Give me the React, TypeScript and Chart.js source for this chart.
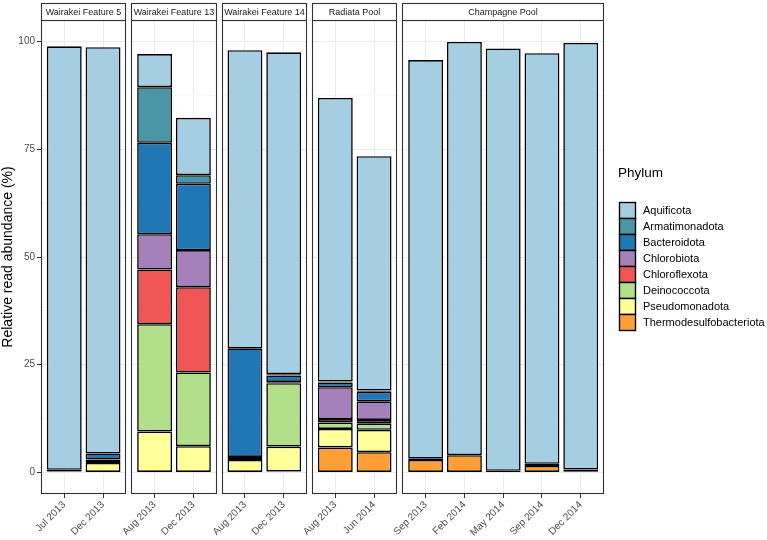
import React, { useEffect, useRef } from "react";
import { Chart, registerables } from "chart.js";

Chart.register(...registerables);

const FONT = "'Liberation Sans', Arial, Helvetica, sans-serif";

// Facets and their samples (x categories)
const FACETS = ["Wairakei Feature 5", "Wairakei Feature 13", "Wairakei Feature 14", "Radiata Pool", "Champagne Pool"];
const FACET_SAMPLES = [
  ["Jul 2013", "Dec 2013"],
  ["Aug 2013", "Dec 2013"],
  ["Aug 2013", "Dec 2013"],
  ["Aug 2013", "Jun 2014"],
  ["Sep 2013", "Feb 2014", "May 2014", "Sep 2014", "Dec 2014"],
];

// Legend order (top to bottom)
const PHYLA = [
  "Aquificota",
  "Armatimonadota",
  "Bacteroidota",
  "Chlorobiota",
  "Chloroflexota",
  "Deinococcota",
  "Pseudomonadota",
  "Thermodesulfobacteriota",
];
const PHYLA_COLORS = ["#A6CEE3", "#4A96A6", "#1F78B4", "#A680BB", "#EF5555", "#B2DF8A", "#FFFF99", "#FF9F35"];

// Values per sample, in facet/sample order (13 bars)
const Aquificota = [98.3, 94.3, 7.7, 13.3, 69.2, 74.7, 65.8, 54.4, 92.5, 95.9, 98.0, 95.3, 99.0];
const Armatimonadota = [0, 0, 12.9, 2.0, 0, 0.3, 0.2, 0.3, 0, 0, 0, 0, 0];
const Bacteroidota = [0.4, 1.4, 21.2, 15.4, 25.2, 1.5, 1.1, 2.2, 0, 0, 0, 0, 0];
const Chlorobiota = [0, 0, 8.2, 8.6, 0, 0.2, 7.4, 4.3, 0, 0, 0, 0, 0];
const Chloroflexota = [0, 0, 12.7, 19.8, 0, 0.1, 0.8, 0.8, 0, 0, 0, 0, 0];
const Deinococcota = [0, 0.8, 24.9, 17.1, 0.7, 14.7, 1.5, 1.5, 0, 0, 0, 0, 0];
const Pseudomonadota = [0.2, 2.2, 9.5, 6.1, 2.9, 5.8, 4.3, 5.2, 0.3, 0, 0.4, 0.5, 0.4];
const Thermodesulfobacteriota = [0, 0, 0, 0, 0, 0.2, 5.8, 4.7, 2.9, 4.0, 0, 1.5, 0.3];

const SERIES: Record<string, number[]> = {
  Aquificota,
  Armatimonadota,
  Bacteroidota,
  Chlorobiota,
  Chloroflexota,
  Deinococcota,
  Pseudomonadota,
  Thermodesulfobacteriota,
};

const Y_TICKS = [0, 25, 50, 75, 100];
const Y_TITLE = "Relative read abundance (%)";
const LEGEND_TITLE = "Phylum";

// Facet layout in x units (discrete positions with ggplot-like expansion)
const EXPAND = 0.6;
const GAP = 0.13;
const PANELS: { min: number; max: number }[] = [];
const BAR_X: number[] = [];
const BAR_LABELS: string[] = [];
{
  let start = 0;
  FACET_SAMPLES.forEach((samples) => {
    const max = start + samples.length - 1 + 2 * EXPAND;
    PANELS.push({ min: start, max });
    samples.forEach((s, i) => {
      BAR_X.push(start + EXPAND + i);
      BAR_LABELS.push(s);
    });
    start = max + GAP;
  });
}
const X_MAX = PANELS[PANELS.length - 1].max;

const Y_GRID: number[] = [];
Y_TICKS.forEach((v, i) => {
  Y_GRID.push(v);
  if (i < Y_TICKS.length - 1) Y_GRID.push((v + Y_TICKS[i + 1]) / 2);
});

const facetPlugin = {
  id: "facets",
  beforeDatasetsDraw(chart: any) {
    const { ctx, chartArea } = chart;
    const xs = chart.scales.x;
    ctx.save();
    ctx.fillStyle = "#FFFFFF";
    for (let i = 0; i < PANELS.length - 1; i++) {
      const a = xs.getPixelForValue(PANELS[i].max);
      const b = xs.getPixelForValue(PANELS[i + 1].min);
      ctx.fillRect(a, chartArea.top - 1, b - a, chartArea.bottom - chartArea.top + 2);
    }
    ctx.restore();
  },
  afterDatasetsDraw(chart: any) {
    const { ctx, chartArea } = chart;
    const xs = chart.scales.x;
    ctx.save();
    const stripTop = 3;
    PANELS.forEach((p, i) => {
      const l = Math.round(xs.getPixelForValue(p.min)) + 0.5;
      const r = Math.round(xs.getPixelForValue(p.max)) - 0.5;
      const t = Math.round(chartArea.top) + 0.5;
      const b = Math.round(chartArea.bottom) - 0.5;
      ctx.strokeStyle = "#333333";
      ctx.lineWidth = 1.1;
      ctx.strokeRect(l, t, r - l, b - t);
      // strip
      ctx.fillStyle = "#FFFFFF";
      ctx.fillRect(l, stripTop + 0.5, r - l, t - stripTop - 0.5);
      ctx.strokeRect(l, stripTop + 0.5, r - l, t - stripTop - 0.5);
      ctx.fillStyle = "#1A1A1A";
      ctx.font = `9px ${FONT}`;
      ctx.textAlign = "center";
      ctx.textBaseline = "middle";
      ctx.fillText(FACETS[i], (l + r) / 2, (stripTop + t) / 2 + 0.5);
    });
    ctx.restore();
  },
  afterDraw(chart: any) {
    const { ctx } = chart;
    ctx.save();
    const x0 = 619.5;
    const keyTop = 202.5;
    const keyH = 16;
    const keyW = 16;
    ctx.fillStyle = "#000000";
    ctx.font = `13.5px ${FONT}`;
    ctx.textAlign = "left";
    ctx.textBaseline = "middle";
    ctx.fillText(LEGEND_TITLE, 618, 173);
    ctx.font = `11px ${FONT}`;
    PHYLA.forEach((name, i) => {
      const y = keyTop + i * keyH;
      ctx.fillStyle = PHYLA_COLORS[i];
      ctx.fillRect(x0, y, keyW, keyH);
      ctx.strokeStyle = "#000000";
      ctx.lineWidth = 1.4;
      ctx.strokeRect(x0, y, keyW, keyH);
      ctx.fillStyle = "#000000";
      ctx.fillText(name, 643, y + keyH / 2 + 0.5);
    });
    ctx.restore();
  },
};

export default function App() {
  const ref = useRef<HTMLCanvasElement | null>(null);

  useEffect(() => {
    if (!ref.current) return;
    const bottomUp = [...PHYLA].reverse();
    const datasets = bottomUp.map((name) => {
      const idx = PHYLA.indexOf(name);
      return {
        label: name,
        data: SERIES[name].map((v, i) => ({ x: BAR_X[i], y: v > 0 ? v : null })),
        backgroundColor: PHYLA_COLORS[idx],
        borderColor: "#000000",
        borderWidth: 1.6,
        borderSkipped: false as const,
        categoryPercentage: 1,
        barPercentage: 0.9,
      };
    });

    const chart = new Chart(ref.current, {
      type: "bar",
      data: { datasets: datasets as any },
      plugins: [facetPlugin],
      options: {
        animation: false,
        responsive: false,
        devicePixelRatio: 1,
        layout: { padding: { top: 20, right: 163, left: 0, bottom: 0 } },
        plugins: {
          legend: { display: false },
          tooltip: { enabled: false },
        },
        scales: {
          x: {
            type: "linear",
            stacked: true,
            min: 0,
            max: X_MAX,
            offset: false,
            afterBuildTicks: (s: any) => {
              s.ticks = BAR_X.map((v) => ({ value: v }));
            },
            afterFit: (s: any) => {
              s.height = 46;
            },
            border: { display: false },
            grid: {
              color: "#EBEBEB",
              lineWidth: 1,
              offset: false,
              drawTicks: true,
              tickLength: 4,
              tickColor: "#333333",
            },
            ticks: {
              autoSkip: false,
              maxRotation: 45,
              minRotation: 45,
              padding: 1,
              color: "#4D4D4D",
              font: { size: 10, family: FONT },
              callback: (_v: any, i: number) => BAR_LABELS[i],
            },
          },
          y: {
            stacked: true,
            min: -5,
            max: 105,
            afterBuildTicks: (s: any) => {
              s.ticks = Y_GRID.map((v) => ({ value: v }));
            },
            afterFit: (s: any) => {
              s.width = 41;
            },
            border: { display: false },
            grid: {
              color: (c: any) => (c.tick && c.tick.value % 25 === 0 ? "#EBEBEB" : "#F3F3F3"),
              lineWidth: (c: any) => (c.tick && c.tick.value % 25 === 0 ? 1 : 0.6),
              tickColor: (c: any) => (c.tick && c.tick.value % 25 === 0 ? "#333333" : "rgba(0,0,0,0)"),
              drawTicks: true,
              tickLength: 4,
            },
            ticks: {
              autoSkip: false,
              padding: 2,
              color: "#4D4D4D",
              font: { size: 10, family: FONT },
              callback: (v: any) => (Number(v) % 25 === 0 ? String(v) : ""),
            },
            title: {
              display: true,
              text: Y_TITLE,
              color: "#000000",
              font: { size: 14, family: FONT },
              padding: { top: 0, bottom: 0 },
            },
          },
        },
      } as any,
    });
    return () => chart.destroy();
  }, []);

  return (
    <div style={{ position: "fixed", left: 0, top: 0, width: 767, height: 540, background: "#fff" }}>
      <canvas ref={ref} width={767} height={540} style={{ display: "block", width: 767, height: 540 }} />
    </div>
  );
}
